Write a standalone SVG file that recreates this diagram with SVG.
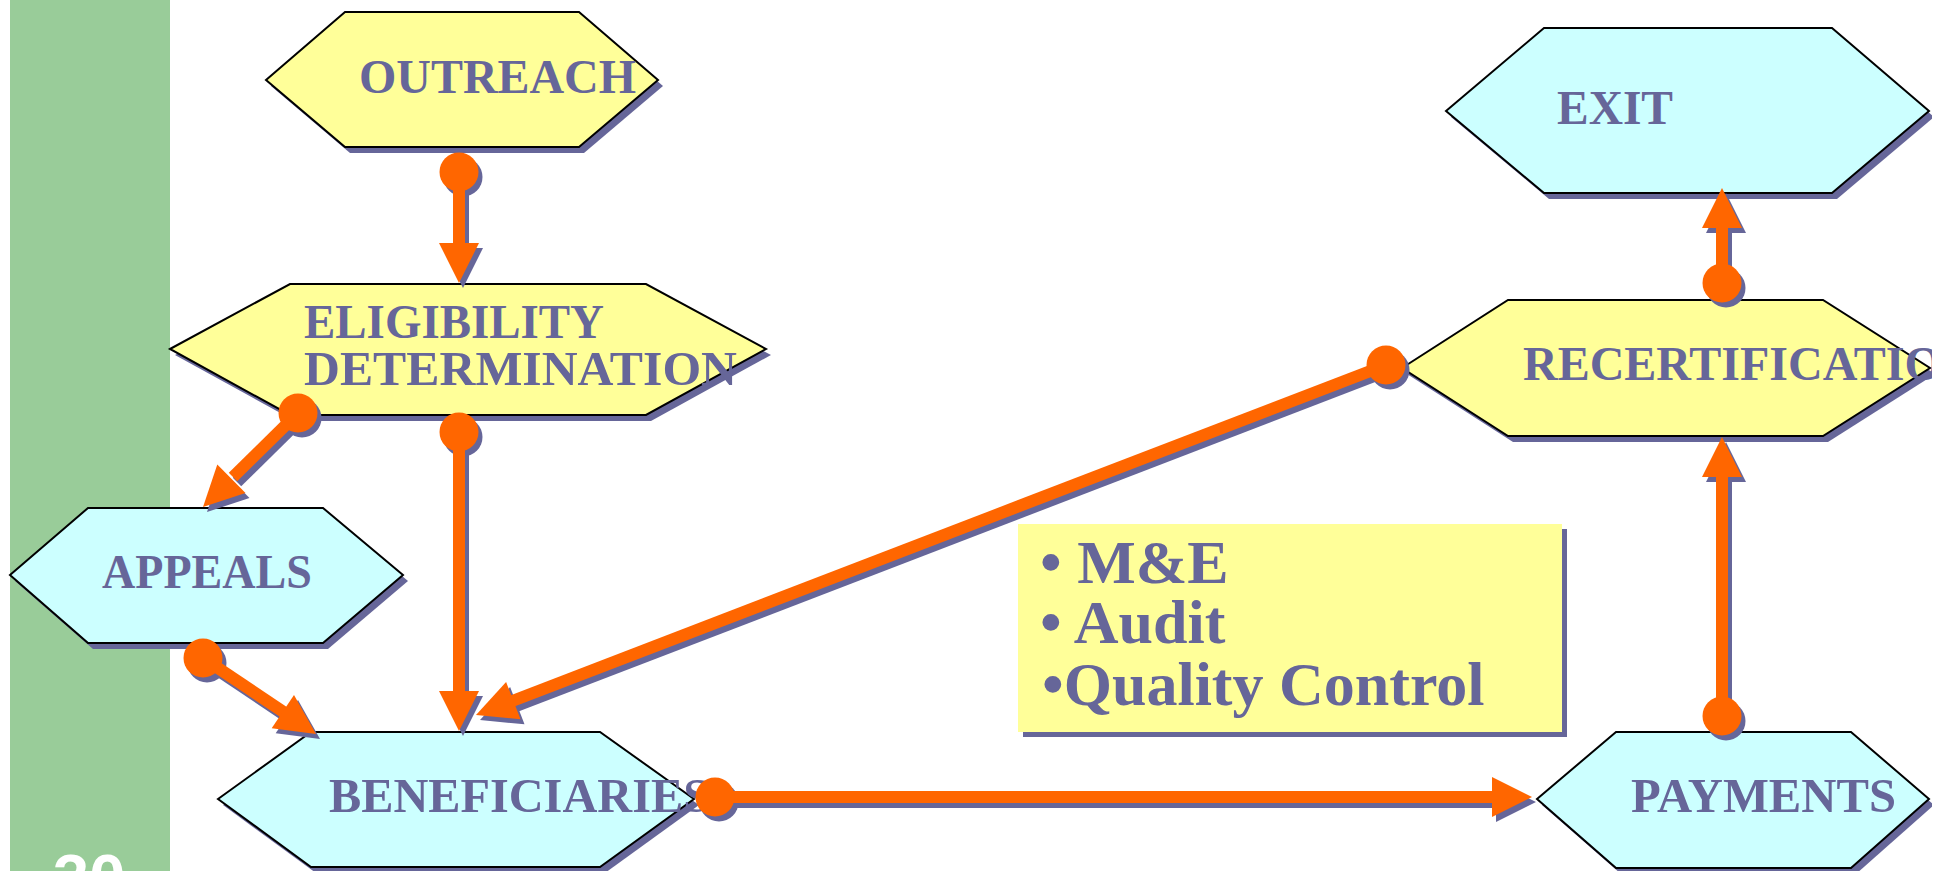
<svg xmlns="http://www.w3.org/2000/svg" xmlns:xlink="http://www.w3.org/1999/xlink" width="1946" height="871" viewBox="0 0 1946 871">
<style>
.hex{stroke:#000;stroke-width:2;stroke-linejoin:miter}
.yel{fill:#FFFF99}
.cyan{fill:#CCFFFF}
.shd{fill:#666699;stroke:none}
.lbl{font-family:"Liberation Serif","Times New Roman",serif;font-weight:bold;font-size:48px;fill:#666699}
.big{font-family:"Liberation Serif","Times New Roman",serif;font-weight:bold;font-size:62px;fill:#666699}
.cs{fill:#666699;stroke:#666699}
.co{fill:#FF6600;stroke:#FF6600}
</style>
<defs>
<clipPath id="clip"><rect x="0" y="0" width="1932" height="871"/></clipPath>
<g id="k1"><line x1="459" y1="172" x2="459" y2="245" stroke-width="12"/><circle cx="459" cy="172" r="19.5" stroke="none"/><polygon points="439,243 479,243 459,283" stroke="none"/></g>
<g id="k2"><line x1="298" y1="413" x2="233" y2="477" stroke-width="12"/><circle cx="298" cy="413" r="19.5" stroke="none"/><polygon points="245.5,493 217.3,464.6 203,507" stroke="none"/></g>
<g id="k3"><line x1="459" y1="432" x2="459" y2="693" stroke-width="12"/><circle cx="459" cy="432" r="19.5" stroke="none"/><polygon points="439,691 479,691 459,731" stroke="none"/></g>
<g id="k4"><line x1="1386" y1="365" x2="511" y2="701.5" stroke-width="12"/><circle cx="1386" cy="365" r="19.5" stroke="none"/><polygon points="520.5,719.3 506.1,681.9 476,715" stroke="none"/></g>
<g id="k5"><line x1="203" y1="658" x2="285" y2="713" stroke-width="12"/><circle cx="203" cy="658" r="19.5" stroke="none"/><polygon points="271.7,728.3 294,695.1 316,734" stroke="none"/></g>
<g id="k6"><line x1="715" y1="797" x2="1494" y2="797" stroke-width="12"/><circle cx="715" cy="797" r="19.5" stroke="none"/><polygon points="1492,777 1492,817 1532,797" stroke="none"/></g>
<g id="k7"><line x1="1722" y1="716" x2="1722" y2="475" stroke-width="12"/><circle cx="1722" cy="716" r="19.5" stroke="none"/><polygon points="1702,477 1742,477 1722,437" stroke="none"/></g>
<g id="k8"><line x1="1722" y1="283" x2="1722" y2="226" stroke-width="12"/><circle cx="1722" cy="283" r="19.5" stroke="none"/><polygon points="1702,228 1742,228 1722,188" stroke="none"/></g>
</defs>
<rect x="0" y="0" width="1946" height="871" fill="#FFFFFF"/>
<g clip-path="url(#clip)">
<g id="sidebar">
<rect x="10" y="0" width="160" height="871" fill="#99CC99"/>
<text x="53" y="900" font-family="Liberation Sans, Arial, sans-serif" font-weight="bold" font-size="65" fill="#FFFFFF">30</text>
</g>
<g id="outreach">
<polygon class="shd" transform="translate(5,6)" points="266,80 345,12 579,12 658,80 579,147 345,147"/>
<polygon class="hex yel" points="266,80 345,12 579,12 658,80 579,147 345,147"/>
<text class="lbl" x="359" y="93" textLength="277" lengthAdjust="spacingAndGlyphs">OUTREACH</text>
</g>
<g id="eligibility">
<polygon class="shd" transform="translate(5,6)" points="170,349 290,284 646,284 766,349 646,415 290,415"/>
<polygon class="hex yel" points="170,349 290,284 646,284 766,349 646,415 290,415"/>
<text class="lbl" x="304" y="338" textLength="300" lengthAdjust="spacingAndGlyphs">ELIGIBILITY</text>
<text class="lbl" x="304" y="385" textLength="433" lengthAdjust="spacingAndGlyphs">DETERMINATION</text>
</g>
<g id="appeals">
<polygon class="shd" transform="translate(5,6)" points="10,575 88,508 323,508 403,575 323,643 88,643"/>
<polygon class="hex cyan" points="10,575 88,508 323,508 403,575 323,643 88,643"/>
<text class="lbl" x="102" y="588" textLength="210" lengthAdjust="spacingAndGlyphs">APPEALS</text>
</g>
<g id="beneficiaries">
<polygon class="shd" transform="translate(5,6)" points="218,799 311,732 600,732 694,799 600,867 311,867"/>
<polygon class="hex cyan" points="218,799 311,732 600,732 694,799 600,867 311,867"/>
<text class="lbl" x="329" y="812" textLength="381" lengthAdjust="spacingAndGlyphs">BENEFICIARIES</text>
</g>
<g id="exit">
<polygon class="shd" transform="translate(5,6)" points="1446,111 1544,28 1832,28 1929,111 1832,193 1544,193"/>
<polygon class="hex cyan" points="1446,111 1544,28 1832,28 1929,111 1832,193 1544,193"/>
<text class="lbl" x="1557" y="124" textLength="116" lengthAdjust="spacingAndGlyphs">EXIT</text>
</g>
<g id="recertification">
<polygon class="shd" transform="translate(5,6)" points="1402,368 1508,300 1823,300 1930,368 1823,436 1508,436"/>
<polygon class="hex yel" points="1402,368 1508,300 1823,300 1930,368 1823,436 1508,436"/>
<text class="lbl" x="1523" y="380">RECERTIFICATION</text>
</g>
<g id="payments">
<polygon class="shd" transform="translate(5,6)" points="1537,799 1616,732 1851,732 1929,799 1851,868 1616,868"/>
<polygon class="hex cyan" points="1537,799 1616,732 1851,732 1929,799 1851,868 1616,868"/>
<text class="lbl" x="1631" y="812" textLength="265" lengthAdjust="spacingAndGlyphs">PAYMENTS</text>
</g>
<g id="mande">
<rect class="shd" x="1023" y="529" width="544" height="208"/>
<rect x="1018" y="524" width="544" height="208" fill="#FFFF99"/>
<text class="big" x="1040" y="583">• M&amp;E</text>
<text class="big" x="1040" y="643">• Audit</text>
<text class="big" x="1042" y="705">•Quality Control</text>
</g>
<g id="connectors">
<use xlink:href="#k1" class="cs" transform="translate(4,5)"/><use xlink:href="#k1" class="co"/>
<use xlink:href="#k2" class="cs" transform="translate(4,5)"/><use xlink:href="#k2" class="co"/>
<use xlink:href="#k3" class="cs" transform="translate(4,5)"/><use xlink:href="#k3" class="co"/>
<use xlink:href="#k4" class="cs" transform="translate(4,5)"/><use xlink:href="#k4" class="co"/>
<use xlink:href="#k5" class="cs" transform="translate(4,5)"/><use xlink:href="#k5" class="co"/>
<use xlink:href="#k6" class="cs" transform="translate(4,5)"/><use xlink:href="#k6" class="co"/>
<use xlink:href="#k7" class="cs" transform="translate(4,5)"/><use xlink:href="#k7" class="co"/>
<use xlink:href="#k8" class="cs" transform="translate(4,5)"/><use xlink:href="#k8" class="co"/>
</g>
</g>
</svg>
